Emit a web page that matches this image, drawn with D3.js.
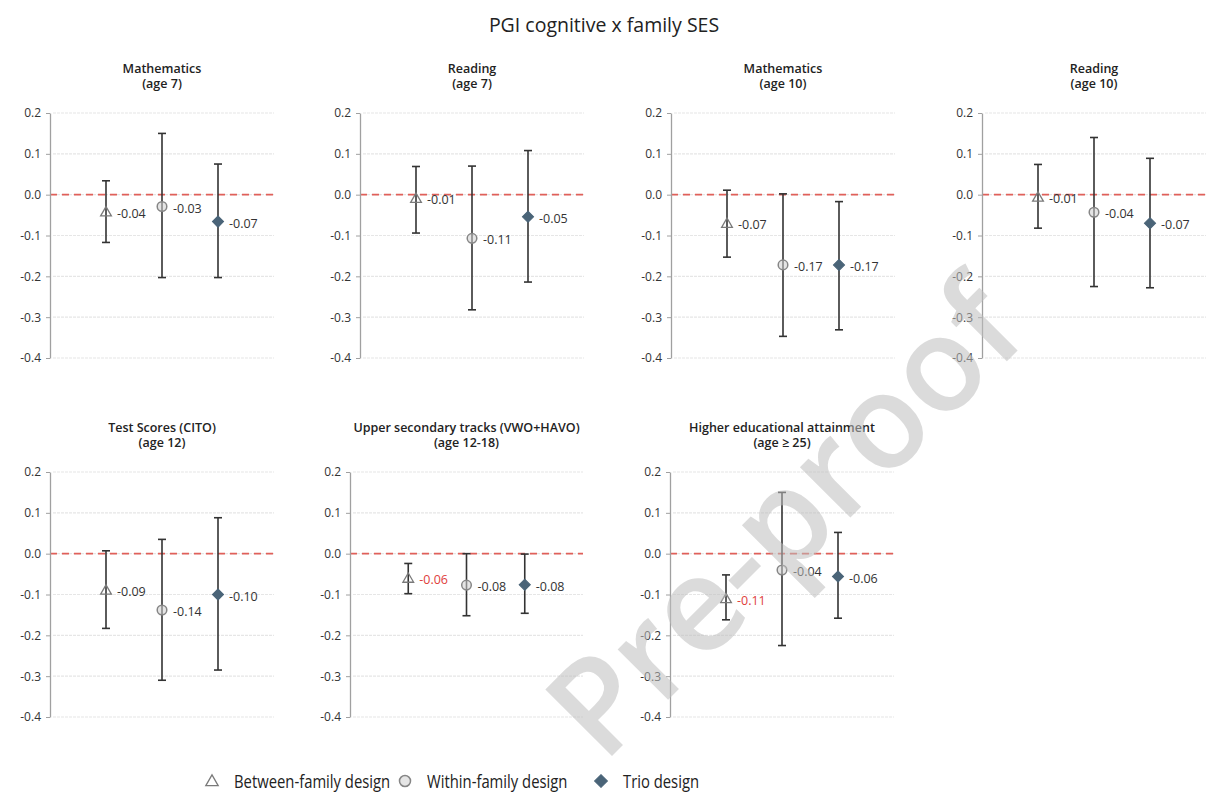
<!DOCTYPE html>
<html><head><meta charset="utf-8">
<script src="https://cdn.jsdelivr.net/npm/d3@7"></script>
<style>
body{margin:0;background:#fff;}
svg{display:block;}
text{font-family:"Open Sans","Noto Sans",sans-serif;}
</style></head><body>
<svg id="chart" width="1208" height="810"></svg>
<script>
// ---------- data ----------
const chartTitle = "PGI cognitive x family SES";
const outcomeNames = ["Mathematics","Reading","Mathematics","Reading","Test Scores (CITO)","Upper secondary tracks (VWO+HAVO)","Higher educational attainment"];
const outcomeAges  = ["(age 7)","(age 7)","(age 10)","(age 10)","(age 12)","(age 12-18)","(age \u2265 25)"];
const designs = ["Between-family design","Within-family design","Trio design"];
const yTicks = [0.2,0.1,0.0,-0.1,-0.2,-0.3,-0.4];

const estBetween = [-0.042,-0.009,-0.070,-0.006,-0.089,-0.060,-0.110];
const loBetween  = [-0.117,-0.094,-0.153,-0.082,-0.183,-0.098,-0.162];
const hiBetween  = [ 0.034, 0.069, 0.011, 0.074, 0.007,-0.024,-0.052];
const sigBetween = [false,false,false,false,false,true,true];

const estWithin = [-0.029,-0.107,-0.172,-0.043,-0.138,-0.077,-0.040];
const loWithin  = [-0.203,-0.282,-0.347,-0.225,-0.310,-0.152,-0.225];
const hiWithin  = [ 0.150, 0.070, 0.002, 0.140, 0.035, 0.000, 0.150];
const sigWithin = [false,false,false,false,false,false,false];

const estTrio = [-0.066,-0.054,-0.172,-0.070,-0.100,-0.076,-0.056];
const loTrio  = [-0.203,-0.214,-0.331,-0.228,-0.285,-0.146,-0.158];
const hiTrio  = [ 0.075, 0.108,-0.017, 0.089, 0.088,-0.001, 0.052];
const sigTrio = [false,false,false,false,false,false,false];

const watermark = "Pre-proof";

// ---------- layout ----------
const panelLeft  = [50,360,671,982,50,350,670];
const panelWidth = [224,224,224,224,224,233,224];
const panelTop   = [113,113,113,113,472,472,472];
const plotH = 245;

const series = [
  {est:estBetween, lo:loBetween, hi:hiBetween, sig:sigBetween, kind:"tri"},
  {est:estWithin,  lo:loWithin,  hi:hiWithin,  sig:sigWithin,  kind:"circ"},
  {est:estTrio,    lo:loTrio,    hi:hiTrio,    sig:sigTrio,    kind:"dia"}
];

const fmt2 = v => d3.format(".2f")(v).replace("\u2212","-");
const fmt1 = v => d3.format(".1f")(v).replace("\u2212","-");

const svg = d3.select("#chart");
svg.append("rect").attr("width",1208).attr("height",810).attr("fill","#fff");

svg.append("text").attr("x",604).attr("y",32).attr("text-anchor","middle")
  .attr("font-size",19.5).attr("font-weight",500).attr("fill","#222").text(chartTitle);

function drawMarker(g, kind, cx, cy, scale){
  scale = scale || 1;
  if(kind==="tri"){
    g.append("path").attr("d", d3.symbol(d3.symbolTriangle, 50*scale*scale)())
      .attr("transform",`translate(${cx},${cy+1})`)
      .attr("fill","none").attr("stroke","#7a7a7a").attr("stroke-width",1.3);
  } else if(kind==="circ"){
    g.append("circle").attr("cx",cx).attr("cy",cy).attr("r",4.8*scale)
      .attr("fill","#cfcfcf").attr("fill-opacity",0.55)
      .attr("stroke","#868686").attr("stroke-width",1.5);
  } else {
    g.append("path").attr("d", d3.symbol(d3.symbolSquare, 62*scale*scale)())
      .attr("transform",`translate(${cx},${cy}) rotate(45)`)
      .attr("fill","#4a6478").attr("stroke","#4a6478").attr("stroke-width",1);
  }
}

outcomeNames.forEach((name,i)=>{
  const left = panelLeft[i], w = panelWidth[i], top = panelTop[i];
  const y = d3.scaleLinear().domain([-0.4,0.2]).range([top+plotH, top]);
  const x = d3.scaleLinear().domain([0,4]).range([left, left+w]);
  const g = svg.append("g");

  g.selectAll(".grid").data(yTicks).enter().append("line")
    .attr("x1",x(0)+3).attr("x2",x(4)).attr("y1",d=>y(d)).attr("y2",d=>y(d))
    .attr("stroke","#e6e6e6").attr("stroke-width",1.2).attr("stroke-dasharray","3,1");

  g.append("line").attr("x1",x(0)).attr("x2",x(4)).attr("y1",y(0)).attr("y2",y(0))
    .attr("stroke","#e0605a").attr("stroke-width",1.6).attr("stroke-dasharray","7,5");

  const ax = g.append("g").attr("transform",`translate(${left},0)`)
    .call(d3.axisLeft(y).tickValues(yTicks).tickSize(4).tickSizeOuter(0).tickPadding(5).tickFormat(fmt1));
  ax.select(".domain").attr("stroke","#a0a0a0").attr("stroke-width",1.3);
  ax.selectAll(".tick line").attr("stroke","#a0a0a0");
  ax.selectAll(".tick text").attr("font-size",12).attr("fill","#333").attr("font-family",null);

  g.append("text").attr("x",x(2)).attr("y",top-40).attr("text-anchor","middle")
    .attr("font-size",12.5).attr("font-weight",600).attr("fill","#222").text(name);
  g.append("text").attr("x",x(2)).attr("y",top-25).attr("text-anchor","middle")
    .attr("font-size",12.5).attr("font-weight",600).attr("fill","#222").text(outcomeAges[i]);

  series.forEach((s,j)=>{
    const cx = x(j+1);
    g.append("line").attr("x1",cx).attr("x2",cx).attr("y1",y(s.lo[i])).attr("y2",y(s.hi[i]))
      .attr("stroke","#333").attr("stroke-width",1.6);
    [s.lo[i], s.hi[i]].forEach(v=>{
      g.append("line").attr("x1",cx-4).attr("x2",cx+4).attr("y1",y(v)).attr("y2",y(v))
        .attr("stroke","#333").attr("stroke-width",1.6);
    });
    drawMarker(g, s.kind, cx, y(s.est[i]));
    g.append("text").attr("x",cx+11).attr("y",y(s.est[i])+6)
      .attr("font-size",12.5).attr("fill", s.sig[i] ? "#e0403c" : "#333")
      .text(fmt2(s.est[i]));
  });
});

// legend
const legX = [212, 405, 601];
const lg = svg.append("g");
designs.forEach((d,j)=>{
  drawMarker(lg, series[j].kind, legX[j], 781, 1.15);
  const t = lg.append("text").attr("x",legX[j]+22).attr("y",788).attr("font-size",19)
    .attr("fill","#222").text(d);
  const nat = t.node().getComputedTextLength();
  t.attr("textLength", nat*0.78).attr("lengthAdjust","spacingAndGlyphs");
});

// watermark
svg.append("text").attr("transform","translate(792,526) rotate(-45)")
  .attr("text-anchor","middle").attr("dominant-baseline","middle")
  .attr("font-size",132).attr("font-weight",600)
  .attr("fill","#bdbdbd").attr("fill-opacity",0.55).text(watermark);
</script>
</body></html>
